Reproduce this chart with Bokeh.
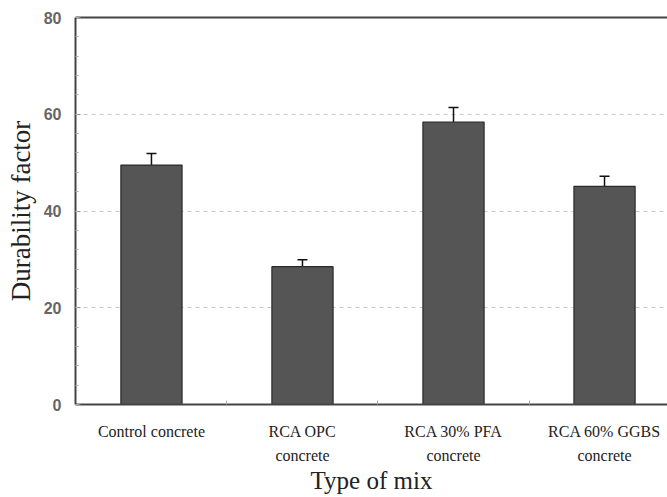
from bokeh.plotting import figure
from bokeh.models import ColumnDataSource, Whisker, TeeHead, FixedTicker, LinearAxis, Range1d
from bokeh.embed import file_html
from bokeh.resources import INLINE

categories = ["Control concrete", "RCA OPC\nconcrete", "RCA 30% PFA\nconcrete", "RCA 60% GGBS\nconcrete"]
values = [49.5, 28.5, 58.4, 45.1]
errors = [2.4, 1.4, 3.0, 2.1]
y_ticks = [0, 20, 40, 60, 80]

xs = list(range(len(categories)))
src = ColumnDataSource(dict(
    x=xs, top=values,
    upper=[v + e for v, e in zip(values, errors)],
    lower=[v - e for v, e in zip(values, errors)],
))

p = figure(width=667, height=497, output_backend="svg", toolbar_location=None,
           x_range=Range1d(-0.503, 3.417), y_range=Range1d(0, 80),
           min_border_left=75, min_border_right=0, min_border_top=17, min_border_bottom=90)
p.outline_line_color = None
p.background_fill_color = "white"
p.border_fill_color = "white"

p.vbar(x="x", top="top", width=0.405, source=src, fill_color="#555555",
       line_color="#2a2a2a", line_width=1.2)

w = Whisker(base="x", upper="upper", lower="lower", source=src, line_color="#111111", line_width=1.5,
            upper_head=TeeHead(size=10, line_color="#111111", line_width=1.5),
            lower_head=TeeHead(size=10, line_color="#111111", line_width=1.5))
p.add_layout(w)

# grid
p.xgrid.grid_line_color = None
p.ygrid.ticker = FixedTicker(ticks=[20, 40, 60])
p.ygrid.grid_line_color = "#c8c8c8"
p.ygrid.grid_line_dash = "4 4"
p.ygrid.grid_line_width = 1

# y axis
ya = p.yaxis[0]
ya.ticker = FixedTicker(ticks=y_ticks, minor_ticks=[v for v in range(0, 81, 4)])
ya.axis_line_color = "#444444"
ya.axis_line_width = 2
ya.major_tick_in = 5
ya.major_tick_out = 0
ya.minor_tick_in = 3
ya.minor_tick_out = 0
ya.major_tick_line_color = "#888888"
ya.minor_tick_line_color = "#aaaaaa"
ya.major_label_text_font = "Liberation Sans"
ya.major_label_text_font_style = "bold"
ya.major_label_text_font_size = "16px"
ya.major_label_text_color = "#666666"
ya.major_label_standoff = 14
ya.axis_label = "Durability factor"
ya.axis_label_text_font = "Liberation Serif"
ya.axis_label_text_font_style = "normal"
ya.axis_label_text_font_size = "27px"
ya.axis_label_text_color = "#222222"
ya.axis_label_standoff = 5

# x axis
xa = p.xaxis[0]
xa.ticker = FixedTicker(ticks=xs, minor_ticks=[0.5, 1.5, 2.5])
xa.major_label_overrides = {i: c for i, c in enumerate(categories)}
xa.axis_line_color = "#444444"
xa.axis_line_width = 2
xa.major_tick_in = 0
xa.major_tick_out = 0
xa.minor_tick_in = 4
xa.minor_tick_out = 0
xa.minor_tick_line_color = "#aaaaaa"
xa.major_label_text_font = "Liberation Serif"
xa.major_label_text_font_size = "16px"
xa.major_label_text_color = "#222222"
xa.major_label_text_line_height = 1.45
xa.major_label_standoff = 18
xa.axis_label = "Type of mix"
xa.axis_label_text_font = "Liberation Serif"
xa.axis_label_text_font_style = "normal"
xa.axis_label_text_font_size = "25px"
xa.axis_label_text_color = "#222222"
xa.axis_label_standoff = 0

# top border line
top = LinearAxis(ticker=FixedTicker(ticks=[]), major_label_text_font_size="0px",
                 axis_line_color="#444444", axis_line_width=2,
                 major_tick_line_color=None, minor_tick_line_color=None)
p.add_layout(top, "above")

open("out.html", "w").write(file_html(p, INLINE))
